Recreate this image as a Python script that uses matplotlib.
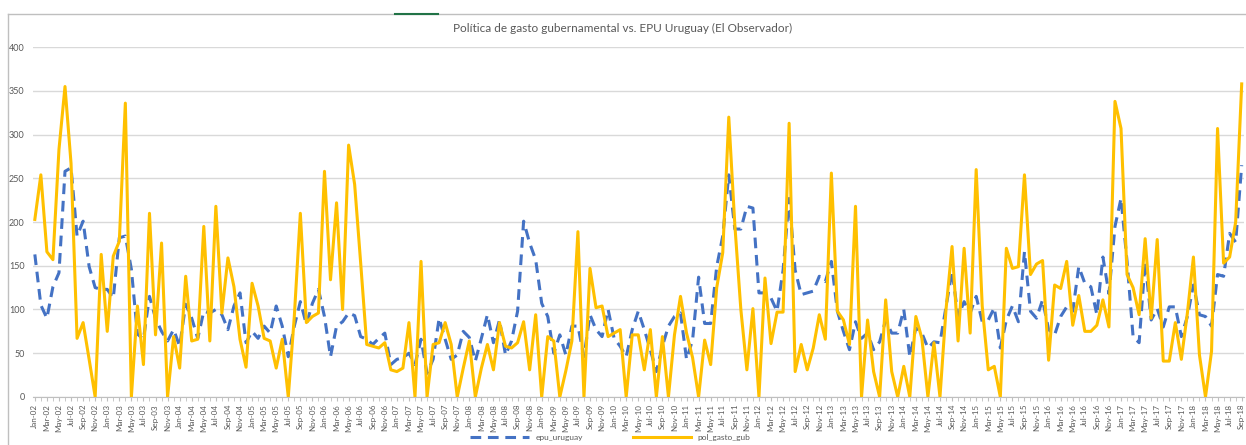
import numpy as np
import pandas as pd
import matplotlib
matplotlib.use('Agg')
import matplotlib.pyplot as plt
from matplotlib.lines import Line2D

# Meses de la serie (Jan-02 a Sep-18)
meses = pd.date_range('2002-01-01', '2018-09-01', freq='MS')
etiquetas = [m.strftime('%b-%y') for m in meses]

# Valores
epu_uruguay = [
    163, 105, 90, 126, 142, 258, 262, 184, 201, 149, 125, 123,
    123, 113, 182, 184, 146, 72, 66, 115, 90, 75, 64, 77,
    58, 106, 90, 67, 98, 96, 100, 94, 77, 104, 119, 62,
    75, 67, 81, 73, 104, 81, 46, 81, 109, 83, 107, 123,
    92, 46, 81, 86, 96, 93, 69, 66, 60, 67, 73, 37,
    43, 45, 50, 37, 66, 27, 43, 90, 66, 43, 48, 75,
    68, 41, 67, 94, 62, 88, 48, 64, 98, 201, 176, 157,
    107, 92, 50, 71, 48, 81, 81, 46, 94, 77, 69, 100,
    67, 58, 46, 77, 98, 77, 54, 29, 58, 81, 92, 96,
    43, 65, 137, 84, 84, 149, 184, 254, 192, 192, 218, 216,
    119, 119, 113, 98, 145, 227, 145, 117, 119, 121, 138, 132,
    155, 98, 75, 54, 86, 67, 73, 54, 63, 88, 73, 73,
    100, 46, 79, 73, 56, 63, 62, 103, 144, 92, 109, 96,
    115, 86, 88, 102, 56, 88, 104, 86, 166, 98, 90, 111,
    77, 71, 92, 103, 98, 149, 130, 126, 94, 160, 118, 195,
    227, 155, 69, 62, 155, 88, 101, 80, 103, 103, 69, 92,
    128, 94, 92, 81, 140, 138, 187, 177, 265,
]
pol_gasto_gub = [
    203, 254, 166, 157, 283, 355, 267, 67, 85, 43, 0, 163,
    75, 161, 178, 336, 0, 104, 37, 210, 71, 176, 0, 69,
    33, 138, 64, 66, 195, 64, 218, 96, 159, 126, 66, 34,
    130, 104, 67, 64, 33, 66, 0, 92, 210, 85, 92, 96,
    258, 134, 222, 100, 288, 243, 153, 60, 58, 56, 62, 31,
    29, 33, 85, 0, 155, 0, 60, 62, 85, 60, 0, 33,
    64, 0, 33, 60, 31, 85, 58, 56, 62, 86, 31, 94,
    0, 69, 64, 0, 30, 64, 189, 0, 147, 102, 104, 69,
    73, 77, 0, 71, 71, 31, 77, 0, 69, 0, 71, 115,
    73, 45, 0, 65, 37, 125, 165, 320, 197, 100, 31, 101,
    0, 136, 61, 97, 97, 313, 29, 60, 31, 56, 94, 66,
    256, 98, 88, 60, 218, 0, 88, 29, 0, 111, 29, 0,
    35, 0, 92, 67, 0, 62, 0, 100, 172, 64, 170, 73,
    260, 104, 31, 35, 0, 170, 147, 149, 254, 140, 152, 156,
    42, 128, 124, 155, 82, 116, 75, 75, 82, 111, 80, 338,
    307, 140, 125, 94, 181, 90, 180, 41, 41, 85, 43, 96,
    160, 48, 0, 52, 307, 153, 160, 200, 358,
]

plt.rcParams['font.family'] = ['Lato', 'DejaVu Sans']
gris = '#595959'

fig = plt.figure(figsize=(12.46, 4.45), dpi=100)
ax = fig.add_axes([0.0265, 0.108, 0.9715, 0.786])

x = np.arange(len(meses))
ax.plot(x, epu_uruguay, color='#4472C4', lw=2.2, ls=(0, (3.5, 2.2)),
        label='epu_uruguay', zorder=3)
ax.plot(x, pol_gasto_gub, color='#FFC000', lw=2.2, label='pol_gasto_gub',
        zorder=4)

ax.set_xlim(-0.3, len(x) - 0.7)
ax.set_ylim(0, 400)
ax.set_yticks(range(0, 401, 50))
ax.set_xticks(x[::2])
ax.set_xticklabels(etiquetas[::2], rotation=90, fontsize=5.8, color=gris)
ax.set_xticks(x, minor=True)
ax.tick_params(axis='y', length=0, labelsize=6.5, labelcolor=gris, pad=6)
ax.tick_params(axis='x', which='both', length=3, color='#bfbfbf', pad=2)
ax.grid(axis='y', color='#d9d9d9', lw=1)
ax.set_axisbelow(True)
for lado in ['top', 'right', 'left']:
    ax.spines[lado].set_visible(False)
ax.spines['bottom'].set_color('#bfbfbf')

fig.text(0.5, 0.935, 'Política de gasto gubernamental vs. EPU Uruguay (El Observador)',
         ha='center', va='center', fontsize=8.5, color=gris)

fig.legend(loc='center', bbox_to_anchor=(0.49, 0.016), ncol=2, frameon=False,
           fontsize=6, handlelength=7, columnspacing=6, labelcolor=gris)

# marco del area del grafico
fig.add_artist(Line2D([8 / 1246, 8 / 1246], [0, 1 - 14 / 445],
                      transform=fig.transFigure, color='#bfbfbf', lw=1))
fig.add_artist(Line2D([8 / 1246, 1], [1 - 14 / 445, 1 - 14 / 445],
                      transform=fig.transFigure, color='#bfbfbf', lw=1))
fig.add_artist(Line2D([395 / 1246, 438 / 1246], [1 - 14 / 445, 1 - 14 / 445],
                      transform=fig.transFigure, color='#217346', lw=1.5))

fig.savefig('out.png', dpi=100)
